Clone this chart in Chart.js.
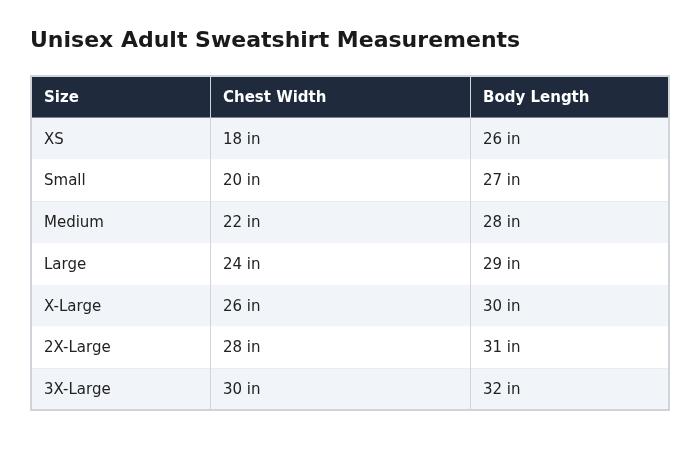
<!DOCTYPE html>
<html>
<head>
<meta charset="utf-8">
<script src="https://cdn.jsdelivr.net/npm/chart.js@4/dist/chart.umd.min.js"></script>
<style>
  html, body { margin: 0; padding: 0; background: #fff; }
  canvas { display: block; }
</style>
</head>
<body>
<canvas id="table" width="700" height="460"></canvas>
<script>
// ----- Data -----
const TITLE = 'Unisex Adult Sweatshirt Measurements';
const HEADERS = ['Size', 'Chest Width', 'Body Length'];
const SIZES = ['XS', 'Small', 'Medium', 'Large', 'X-Large', '2X-Large', '3X-Large'];
const CHEST = ['18 in', '20 in', '22 in', '24 in', '26 in', '28 in', '30 in'];
const LENGTH = ['26 in', '27 in', '28 in', '29 in', '30 in', '31 in', '32 in'];

// column edges in table units (x scale)
const COL_EDGES = [0, 179, 439, 638];

const FONT = '"DejaVu Sans", sans-serif';

const tablePlugin = {
  id: 'tableDraw',
  afterDraw(chart) {
    const ctx = chart.ctx;
    const xs = chart.scales.x, ys = chart.scales.y;
    const area = chart.chartArea;
    const rows = ys.getLabels();
    const band = (area.bottom - area.top) / rows.length;
    const colX = COL_EDGES.map(v => xs.getPixelForValue(v));

    ctx.save();
    // title
    ctx.fillStyle = '#1a1a1a';
    ctx.font = 'bold 22px ' + FONT;
    ctx.textBaseline = 'middle';
    ctx.textAlign = 'left';
    ctx.fillText(TITLE, 30, 41);

    rows.forEach((label, r) => {
      const cy = ys.getPixelForValue(r);
      const top = cy - band / 2;
      let cells, bg, color, font;
      if (r === 0) {
        cells = HEADERS; bg = '#1f2a3c'; color = '#ffffff'; font = 'bold 15px ' + FONT;
      } else {
        cells = [SIZES[r - 1], CHEST[r - 1], LENGTH[r - 1]];
        bg = (r % 2 === 1) ? '#f1f5f9' : '#ffffff';
        color = '#222222'; font = '15px ' + FONT;
      }
      ctx.fillStyle = bg;
      ctx.fillRect(area.left, top, area.right - area.left, band);
      ctx.fillStyle = color;
      ctx.font = font;
      cells.forEach((t, c) => ctx.fillText(t, colX[c] + 13, cy + 1));
      // row line
      ctx.strokeStyle = r === 0 ? '#1f2a3c' : '#d1d5db';
      ctx.lineWidth = 1;
      ctx.beginPath();
      ctx.moveTo(area.left, Math.round(top + band) + 0.5);
      ctx.lineTo(area.right, Math.round(top + band) + 0.5);
      ctx.stroke();
    });

    // column lines
    ctx.strokeStyle = '#d1d5db';
    colX.slice(1, -1).forEach(x => {
      ctx.beginPath();
      ctx.moveTo(Math.round(x) + 0.5, area.top);
      ctx.lineTo(Math.round(x) + 0.5, area.bottom);
      ctx.stroke();
    });
    // outer border
    ctx.strokeStyle = '#cfd4da';
    ctx.lineWidth = 2;
    ctx.strokeRect(area.left, area.top, area.right - area.left, area.bottom - area.top);
    ctx.restore();
  },
};

new Chart(document.getElementById('table'), {
  type: 'bar',
  data: {
    labels: ['header', ...SIZES],
    datasets: [{ data: [], xAxisID: 'x', yAxisID: 'y' }],
  },
  options: {
    responsive: false,
    animation: false,
    indexAxis: 'y',
    layout: { padding: { left: 31, right: 31, top: 76, bottom: 50 } },
    scales: {
      x: { type: 'linear', min: COL_EDGES[0], max: COL_EDGES[COL_EDGES.length - 1], display: false },
      y: { type: 'category', offset: true, display: false },
    },
    plugins: { legend: { display: false }, tooltip: { enabled: false } },
  },
  plugins: [tablePlugin],
});
</script>
</body>
</html>
